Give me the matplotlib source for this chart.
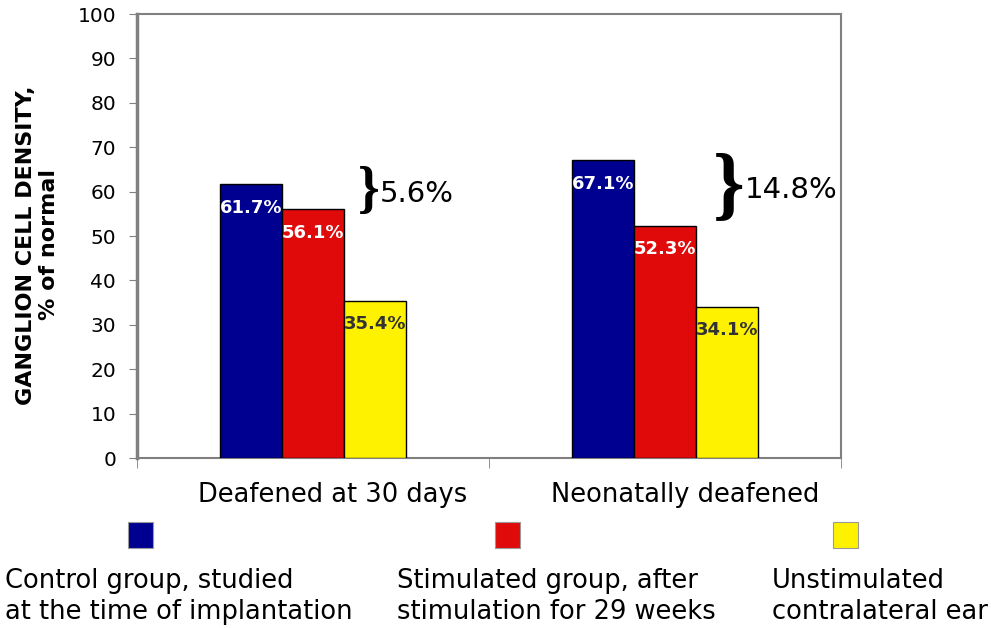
import numpy as np
import matplotlib.pyplot as plt
import matplotlib.transforms as mtransforms
from matplotlib.patches import Rectangle

# ganglion cell density, % of normal
groups = ["Deafened at 30 days", "Neonatally deafened"]
control = [61.7, 67.1]
stimulated = [56.1, 52.3]
unstimulated = [35.4, 34.1]

series_names = ["Control group, studied\nat the time of implantation",
                "Stimulated group, after\nstimulation for 29 weeks",
                "Unstimulated\ncontralateral ear"]
colors = ["#000090", "#E00A0A", "#FFF200"]
label_colors = ["white", "white", "#333333"]

plt.rcParams['font.family'] = ['DejaVu Sans']

fig = plt.figure(figsize=(9.91, 6.28), dpi=100)
ax = fig.add_axes([0.1382, 0.2707, 0.7104, 0.707])

x = np.arange(len(groups))
width = 0.176
series = [control, stimulated, unstimulated]

for i, (vals, col, lcol) in enumerate(zip(series, colors, label_colors)):
    xs = x + (i - 1) * width
    bars = ax.bar(xs, vals, width, color=col, edgecolor="black", linewidth=1, zorder=3)
    for b, v in zip(bars, vals):
        ax.annotate("%.1f%%" % v, (b.get_x() + b.get_width() / 2, v),
                    xytext=(0, -17), textcoords="offset points",
                    ha="center", va="center", color=lcol,
                    fontsize=13, fontweight="bold", zorder=4)

# braces showing the drop between control and stimulated
brace_sizes = [40, 58]
for i in range(len(groups)):
    diff = control[i] - stimulated[i]
    mid = (control[i] + stimulated[i]) / 2 + 1.0
    tx = x[i] + 1.5 * width - 0.074 + i * 0.036
    ax.text(tx, mid, "}", fontsize=brace_sizes[i], family="Liberation Serif",
            fontweight="bold", ha="right", va="center")
    ax.text(tx, mid - 0.4, "%.1f%%" % diff, fontsize=21,
            ha="left", va="center")

ax.set_xlim(-0.5, 1.5)
ax.set_ylim(0, 100)
ax.set_yticks(np.arange(0, 101, 10))
ax.tick_params(axis="y", labelsize=14.5, length=6, color="#808080", pad=9)

ax.set_xticks(x)
ax.set_xticklabels(groups, fontsize=18.5)
ax.tick_params(axis="x", length=0, pad=17)
ax.set_xticks([-0.5, 0.5, 1.5], minor=True)
ax.tick_params(axis="x", which="minor", length=7, color="#808080")
# category names sit a little right of the group centre
shift = mtransforms.ScaledTranslation(0.2, 0, fig.dpi_scale_trans)
for lab in ax.get_xticklabels():
    lab.set_transform(lab.get_transform() + shift)

for name, sp in ax.spines.items():
    sp.set_color("#808080")
    sp.set_linewidth(1.5)
ax.spines["left"].set_linewidth(2.5)

ax.set_ylabel("GANGLION CELL DENSITY,\n% of normal", fontsize=16,
              fontweight="bold", linespacing=1.2)
ax.yaxis.set_label_coords(-0.111, 0.48)

# legend laid out as swatches above two-line captions
swatch_x = [128, 495, 833]
text_x = [5, 397, 772]
for sx, tx, col, name in zip(swatch_x, text_x, colors, series_names):
    fig.add_artist(Rectangle((sx / 991, 1 - 548 / 628), 25 / 991, 26 / 628,
                             transform=fig.transFigure, facecolor=col,
                             edgecolor="#999999", linewidth=0.8))
    fig.text(tx / 991, 1 - 568 / 628, name, fontsize=18.5, ha="left", va="top",
             linespacing=1.25)

fig.savefig("out.png", dpi=100)
